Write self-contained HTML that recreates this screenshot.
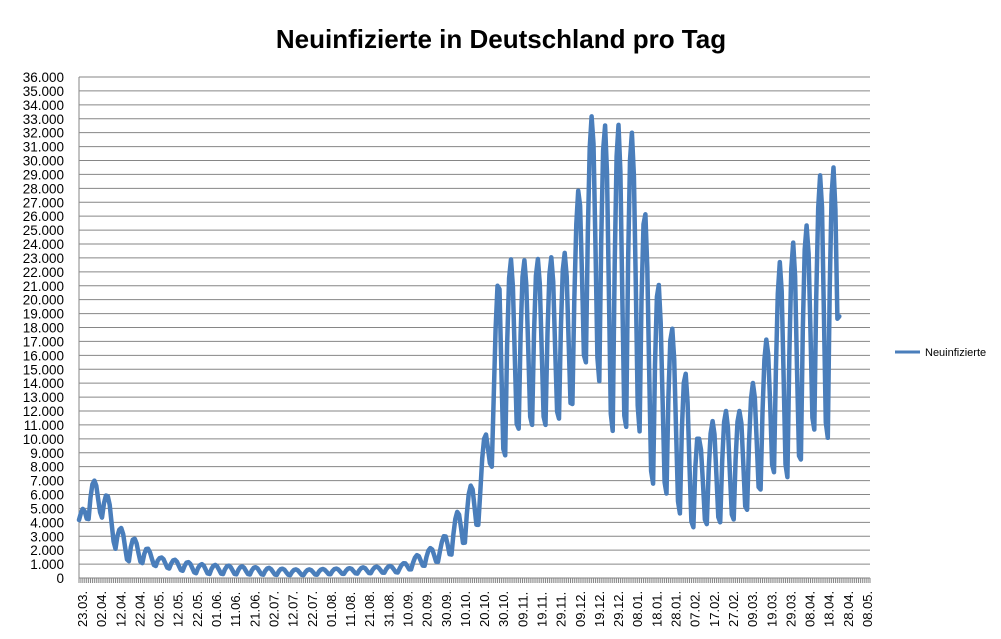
<!DOCTYPE html>
<html><head><meta charset="utf-8"><style>
body{margin:0;background:#fff;}
svg{display:block;font-family:"Liberation Sans",sans-serif;}
</style></head><body>
<svg id="s" width="1001" height="639" xmlns="http://www.w3.org/2000/svg">
<text x="501" y="48" text-anchor="middle" font-size="26" font-weight="bold" fill="#000">Neuinfizierte in Deutschland pro Tag</text>
<g id="grid"></g>
<g id="ticks"></g>
<polyline id="line" fill="none" stroke="#4a7ebb" stroke-width="4.5" stroke-linejoin="round" stroke-linecap="round"/>
<line x1="895" y1="352" x2="920" y2="352" stroke="#4a7ebb" stroke-width="3"/>
<text x="925" y="356" font-size="11" fill="#000">Neuinfizierte</text>
</svg>
<script>
var NS="http://www.w3.org/2000/svg";
function el(p,t,a,txt){var e=document.createElementNS(NS,t);for(var k in a)e.setAttribute(k,a[k]);if(txt!=null)e.textContent=txt;p.appendChild(e);return e;}
var g=document.getElementById('grid'),tk=document.getElementById('ticks');
var x0=79,x1=870,y0=578,yTop=77,step=(y0-yTop)/36;
function yv(v){return y0-v/1000*step;}
for(var i=0;i<=36;i++){var y=y0-i*step;
 el(g,'line',{x1:x0,x2:x1,y1:y,y2:y,stroke:'#868686','stroke-width':1});
 var lab=i==0?'0':(i+'.000');
 el(g,'text',{x:64,y:y+5,'text-anchor':'end','font-size':13.5,fill:'#000'},lab);}
el(g,'line',{x1:x0,x2:x0,y1:yTop,y2:y0,stroke:'#868686'});
var days=412,dx=(x1-x0)/days;
for(var d=0;d<=days;d++){var x=x0+d*dx;el(tk,'line',{x1:x,x2:x,y1:y0,y2:y0+5,stroke:'#868686','stroke-width':1});}
var labels=["23.03.","02.04.","12.04.","22.04.","02.05.","12.05.","22.05.","01.06.","11.06.","21.06.","02.07.","12.07.","22.07.","01.08.","11.08.","21.08.","31.08.","10.09.","20.09.","30.09.","10.10.","20.10.","30.10.","09.11.","19.11.","29.11.","09.12.","19.12.","29.12.","08.01.","18.01.","28.01.","07.02.","17.02.","27.02.","09.03.","19.03.","29.03.","08.04.","18.04.","28.04.","08.05."];
var lx=[];for(var i=0;i<labels.length;i++){lx.push(83+i*(868-83)/41);}
for(var i=0;i<labels.length;i++){var x=lx[i]+4;
 el(tk,'text',{x:0,y:0,transform:'translate('+x+',627) rotate(-90)','font-size':13,fill:'#000'},labels[i]);}
// envelopes [day, high, low]
var env=[[0,4200,3900],[6,7000,4300],[11,7000,4600],[16,5600,3300],[21,3700,1300],[32,2500,1100],[42,1500,800],[63,1000,300],[115,600,200],[140,700,300],[167,900,400],[178,1800,800],[188,2500,1200],[198,5000,2000],[209,8000,4000],[214,13000,8000],[219,23000,8000],[230,22800,11000],[245,23000,11000],[256,23500,12000],[262,30000,15000],[268,33800,16500],[275,32300,11000],[282,32600,10000],[290,31800,12300],[296,25000,7000],[303,20400,6500],[310,17500,5500],[317,14200,3500],[323,10000,3800],[334,12000,4000],[344,12000,4300],[352,14300,5500],[359,17600,7500],[365,22700,7700],[373,24300,6800],[380,25500,10800],[387,29500,10500],[394,29500,9500],[397,19000,18800]];
function interp(d,k){for(var i=0;i<env.length-1;i++){if(d>=env[i][0]&&d<=env[i+1][0]){var t=(d-env[i][0])/(env[i+1][0]-env[i][0]);return env[i][k]+(env[i+1][k]-env[i][k])*t;}}return env[env.length-1][k];}
var pat=[0.05,0.0,0.55,0.9,1.0,0.85,0.45];
var pts=[];
for(var d=0;d<=396;d++){var h=interp(d,1),l=interp(d,2);var p=pat[(d+3)%7];
 var v=l+(h-l)*p; if(d==396)v=18800;
 pts.push((x0+d*dx).toFixed(1)+','+yv(v).toFixed(1));}
document.getElementById('line').setAttribute('points',pts.join(' '));
</script>
</body></html>
